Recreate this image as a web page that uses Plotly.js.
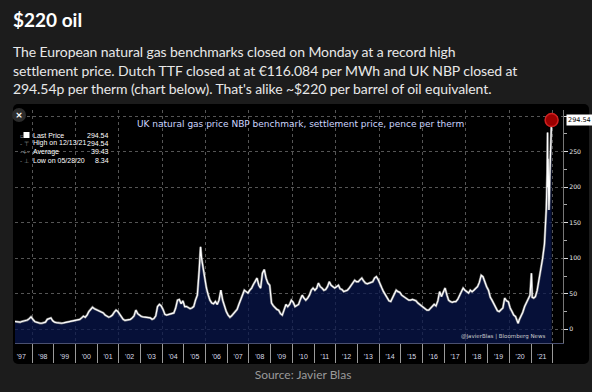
<!DOCTYPE html>
<html><head><meta charset="utf-8">
<script src="https://cdn.plot.ly/plotly-3.0.1.min.js"></script>
<style>
html,body{margin:0;padding:0;background:#1c1c1c;width:592px;height:392px;overflow:hidden;}
#panel{position:absolute;left:13px;top:104px;width:576px;height:260px;background:#000;border-radius:5px;}
#chart{position:absolute;left:0;top:0;width:592px;height:392px;}
.hdr{position:absolute;font-family:Lato,"Open Sans",sans-serif;color:#e8e8e8;white-space:nowrap;}
#title{left:13px;top:9px;font-size:19px;font-weight:bold;color:#fff;line-height:21px;}
#body{left:13px;top:43px;font-size:14px;line-height:18.5px;letter-spacing:-0.08px;}
#source{left:0;width:606px;text-align:center;top:367px;font-size:12px;color:#9a9a9a;}
#close{position:absolute;left:12px;top:108px;width:14px;height:14px;border-radius:50%;background:#2c2c2c;color:#fff;font:bold 9px "DejaVu Sans";text-align:center;line-height:14px;}
</style></head>
<body>
<div id="panel"></div>
<div id="chart"></div>
<div class="hdr" id="title">$220 oil</div>
<div class="hdr" id="body">The European natural gas benchmarks closed on Monday at a record high<br>settlement price. Dutch TTF closed at at €116.084 per MWh and UK NBP closed at<br>294.54p per therm (chart below). That's alike ~$220 per barrel of oil equivalent.</div>
<div class="hdr" id="source">Source: Javier Blas</div>
<div id="close">×</div>
<script>
const dates = [
'1997-03-15','1997-04-15','1997-05-15','1997-06-15','1997-07-15','1997-08-15','1997-09-15','1997-10-15','1997-11-15','1997-12-15',
'1998-01-15','1998-02-15','1998-03-15','1998-04-15','1998-05-15','1998-06-15','1998-07-15','1998-08-15','1998-09-15','1998-10-15','1998-11-15','1998-12-15',
'1999-01-15','1999-02-15','1999-03-15','1999-04-15','1999-05-15','1999-06-15','1999-07-15','1999-08-15','1999-09-15','1999-10-15','1999-11-15','1999-12-15',
'2000-01-15','2000-02-15','2000-03-15','2000-04-15','2000-05-15','2000-06-15','2000-07-15','2000-08-15','2000-09-15','2000-10-15','2000-11-15','2000-12-15',
'2001-01-15','2001-02-15','2001-03-15','2001-04-15','2001-05-15','2001-06-15','2001-07-15','2001-08-15','2001-09-15','2001-10-15','2001-11-15','2001-12-15',
'2002-01-15','2002-02-15','2002-03-15','2002-04-15','2002-05-15','2002-06-15','2002-07-15','2002-08-15','2002-09-15','2002-10-15','2002-11-15','2002-12-15',
'2003-01-15','2003-02-15','2003-03-15','2003-04-15','2003-05-15','2003-06-15','2003-07-15','2003-08-15','2003-09-15','2003-10-15','2003-11-15','2003-12-15',
'2004-01-15','2004-02-15','2004-03-15','2004-04-15','2004-05-15','2004-06-15','2004-07-15','2004-08-15','2004-09-15','2004-10-15','2004-11-15','2004-12-15',
'2005-01-15','2005-02-15','2005-03-15','2005-04-15','2005-05-15','2005-06-15','2005-07-15','2005-08-15','2005-09-15','2005-10-08','2005-10-25','2005-11-15','2005-12-15',
'2006-01-15','2006-02-15','2006-03-15','2006-04-15','2006-05-15','2006-06-15','2006-07-15','2006-08-15','2006-09-15','2006-10-15','2006-11-15','2006-12-15',
'2007-01-15','2007-02-15','2007-03-15','2007-04-15','2007-05-15','2007-06-15','2007-07-15','2007-08-15','2007-09-15','2007-10-15','2007-11-15','2007-12-15',
'2008-01-15','2008-02-15','2008-03-15','2008-04-15','2008-05-15','2008-06-15','2008-07-15','2008-08-15','2008-09-15','2008-10-15','2008-11-15','2008-12-15',
'2009-01-15','2009-02-15','2009-03-15','2009-04-15','2009-05-15','2009-06-15','2009-07-15','2009-08-15','2009-09-15','2009-10-15','2009-11-15','2009-12-15',
'2010-01-15','2010-02-15','2010-03-15','2010-04-15','2010-05-15','2010-06-15','2010-07-15','2010-08-15','2010-09-15','2010-10-15','2010-11-15','2010-12-15',
'2011-01-15','2011-02-15','2011-03-15','2011-04-15','2011-05-15','2011-06-15','2011-07-15','2011-08-15','2011-09-15','2011-10-15','2011-11-15','2011-12-15',
'2012-01-15','2012-02-15','2012-03-15','2012-04-15','2012-05-15','2012-06-15','2012-07-15','2012-08-15','2012-09-15','2012-10-15','2012-11-15','2012-12-15',
'2013-01-15','2013-02-15','2013-03-15','2013-04-15','2013-05-15','2013-06-15','2013-07-15','2013-08-15','2013-09-15','2013-10-15','2013-11-15','2013-12-15',
'2014-01-15','2014-02-15','2014-03-15','2014-04-15','2014-05-15','2014-06-15','2014-07-15','2014-08-15','2014-09-15','2014-10-15','2014-11-15','2014-12-15',
'2015-01-15','2015-02-15','2015-03-15','2015-04-15','2015-05-15','2015-06-15','2015-07-15','2015-08-15','2015-09-15','2015-10-15','2015-11-15','2015-12-15',
'2016-01-15','2016-02-15','2016-03-15','2016-04-15','2016-05-15','2016-06-15','2016-07-15','2016-08-15','2016-09-15','2016-10-15','2016-11-15','2016-12-15',
'2017-01-15','2017-02-15','2017-03-15','2017-04-15','2017-05-15','2017-06-15','2017-07-15','2017-08-15','2017-09-15','2017-10-15','2017-11-15','2017-12-15',
'2018-01-15','2018-02-15','2018-03-15','2018-04-15','2018-05-15','2018-06-15','2018-07-15','2018-08-15','2018-09-15','2018-10-15','2018-11-15','2018-12-15',
'2019-01-15','2019-02-15','2019-03-15','2019-04-15','2019-05-15','2019-06-15','2019-07-15','2019-08-15','2019-09-15','2019-10-15','2019-11-15','2019-12-15',
'2020-01-15','2020-02-15','2020-03-15','2020-04-15','2020-05-15','2020-05-28','2020-06-15','2020-07-15','2020-08-15','2020-09-15','2020-10-15','2020-11-15','2020-12-15',
'2021-01-08','2021-01-20','2021-02-15','2021-03-15','2021-04-15','2021-05-15','2021-06-15','2021-07-15','2021-08-15','2021-09-01','2021-09-15','2021-09-30',
'2021-10-06','2021-10-08','2021-10-15','2021-10-22','2021-10-29','2021-11-05','2021-11-12','2021-11-19','2021-11-26','2021-12-03','2021-12-10','2021-12-13'
];
const prices = [
11,10.5,11,10,11,11.5,12,13,15,17.5,
14,11,10,9,8.5,8.5,9,10,14,15.5,16,12,
10,9.5,9,9,8.5,9,9.5,10,11,11.5,12,12.5,
13,13.5,14,16,18.5,17,20,25,28,31,29,28,
27,25,24,23,20,18,17,18,20,24,27,25,
21,17,14,12.5,13,13.5,14,16,19,27,22,20,
18,17.5,17,17,17,16,14,15,19,32,35,33,
28,21,20,21,21.5,22.5,23,30,41,42,36,40,
32,32,31,29,30,32,41,48,83,116,100,88,72,
58,48,41,37,36,39,35,41,55,41,32,25,
20,17,19,22.5,25,28,35,42,48,55,53,51,
55,58,63,67,72,62,58,79,84,72,65,62,
37,33,30,28,27,22,20,28,35,32,35,41,
38,32,33,35,42,48,44,41,44,48,55,58,
55,58,65,60,58,55,56,60,67,62,60,58,
60,62,57,56,53,54,55,58,62,65,69,67,
67,70,72,68,65,64,65,66,67,72,74,70,
65,58,53,48,44,40,39,44,48,55,53,52,
48,46,45,43,41,41,42,41,40,37,35,33,
30,28,27,27,30,32,35,33,40,53,46,52,
58,48,41,39,38,39,39,42,48,53,58,55,
53,51,55,53,55,58,60,66,76,74,65,60,
55,45,41,36,32,26,25,28,30,44,40,39,
30,25,20,18,11,8.34,13,18,24,32,37,41,48,
79,45,44,46,55,68,82,100,120,150,170,220,
277,200,240,195,168,185,215,235,250,255,280,294.54
];
const legendLabels = ['Last Price','High on 12/13/21','Average','Low on 05/28/20'];
const legendValues = ['294.54','294.54','39.43','8.34'];
const legendSymbols = ['▫','- ⊤','-+-','- ⊥'];
const yTickVals = [0, 50, 100, 150, 200, 250, 300];
const yTickText = ['0', '50', '100', '150', '200', '250', ''];
const chartTitle = 'UK natural gas price NBP benchmark, settlement price, pence per therm';
const credit = '@JavierBlas | Bloomberg News';

const yRange = [-19.3, 308.7];
const xRange = ['1997-03-20', '2022-06-23'];
const L = 15, R = 563, T = 110, B = 343;
const px = x => (x - L) / (R - L);
const py = y => (B - y) / (B - T);
const last = dates.length - 1;

const traces = [
  {x:[dates[0], dates[last]], y:[yRange[0], yRange[0]], mode:'lines', line:{width:0}, hoverinfo:'skip', showlegend:false, xaxis:'x', yaxis:'y'},
  {x:dates, y:prices, mode:'lines', fill:'tonexty', fillcolor:'rgba(8,22,78,0.72)', line:{color:'rgba(150,150,150,0.8)', width:2.4}, hoverinfo:'skip', showlegend:false, xaxis:'x', yaxis:'y'},
  {x:dates, y:prices, mode:'lines', line:{color:'#ffffff', width:1.2}, showlegend:false, xaxis:'x2', yaxis:'y'},
  {x:[dates[last]], y:[prices[last]], mode:'markers', marker:{size:13, color:'#9a0000', line:{color:'#d02020', width:1.5}}, showlegend:false, xaxis:'x3', yaxis:'y'}
];

const rowY = [135, 143.4, 151.8, 160.2];
const shapes = [
  {type:'rect', xref:'paper', yref:'paper', x0:px(23.5), x1:px(29.5), y0:py(138), y1:py(132), fillcolor:'#ffffff', line:{width:0}}
];
const ann = [];
ann.push({xref:'paper', yref:'paper', x:px(300), y:py(124), text:chartTitle, showarrow:false, xanchor:'center', yanchor:'middle', font:{family:'DejaVu Sans', size:9, color:'#cdd6ff'}});
legendLabels.forEach((lab, i) => {
  ann.push({xref:'paper', yref:'paper', x:px(31), y:py(rowY[i]), text:lab, showarrow:false, xanchor:'left', yanchor:'middle', font:{family:'Liberation Sans', size:7, color:'#ffffff'}});
  ann.push({xref:'paper', yref:'paper', x:px(111), y:py(rowY[i]), text:legendValues[i], showarrow:false, xanchor:'right', yanchor:'middle', font:{family:'Liberation Sans', size:7, color:'#ffffff'}});
  ann.push({xref:'paper', yref:'paper', x:px(17.5), y:py(rowY[i]), text:legendSymbols[i], showarrow:false, xanchor:'left', yanchor:'middle', font:{family:'DejaVu Sans', size:6, color:'#9a9a9a'}});
});
ann.push({xref:'paper', yref:'paper', x:px(547), y:py(336), text:credit, showarrow:false, xanchor:'right', yanchor:'middle', font:{family:'DejaVu Sans', size:5.5, color:'#cccccc'}});
ann.push({xref:'paper', yref:'y', x:px(566), y:prices[last], text:prices[last].toFixed(2), showarrow:false, xanchor:'left', yanchor:'middle', bgcolor:'#ffffff', borderpad:1, font:{family:'DejaVu Sans', size:6.5, color:'#000000'}});

const layout = {
  width:592, height:392, autosize:false,
  margin:{l:L, r:592-R, t:T, b:392-B, pad:0},
  paper_bgcolor:'rgba(0,0,0,0)', plot_bgcolor:'#000000',
  showlegend:false,
  xaxis:{type:'date', range:xRange, tickmode:'linear', tick0:'1997-01-01', dtick:'M12', ticks:'outside', ticklen:19, tickwidth:1, tickcolor:'#9a9a9a', showticklabels:false, showgrid:false, showline:true, linecolor:'#4a5070', zeroline:false, fixedrange:true},
  xaxis2:{type:'date', overlaying:'x', matches:'x', range:xRange, tickmode:'linear', tick0:'1998-01-01', dtick:'M24', showgrid:true, griddash:'dot', gridcolor:'#555555', gridwidth:1, ticks:'', showticklabels:false, showline:false, zeroline:false},
  xaxis3:{type:'date', overlaying:'x', matches:'x', range:xRange, tickmode:'linear', tick0:'1997-01-01', dtick:'M12', ticklabelmode:'period', tickformat:"'%y", ticks:'', showgrid:false, showline:false, zeroline:false, ticklabelstandoff:8, tickfont:{family:'Liberation Sans', size:7, color:'#d8dcea'}},
  yaxis:{side:'right', range:yRange, tickmode:'array', tickvals:yTickVals, ticktext:yTickText, ticks:'outside', ticklen:4, tickcolor:'#dddddd', tickfont:{family:'DejaVu Sans', size:6.2, color:'#e6e6e6'}, showgrid:true, griddash:'dot', gridcolor:'#555555', gridwidth:1, showline:true, linecolor:'#777777', zeroline:false,
         minor:{dtick:25, ticks:'outside', ticklen:3, tickcolor:'#aaaaaa', showgrid:false}},
  shapes:shapes,
  annotations:ann
};
Plotly.newPlot('chart', traces, layout, {staticPlot:true, displayModeBar:false});
</script>
</body></html>
